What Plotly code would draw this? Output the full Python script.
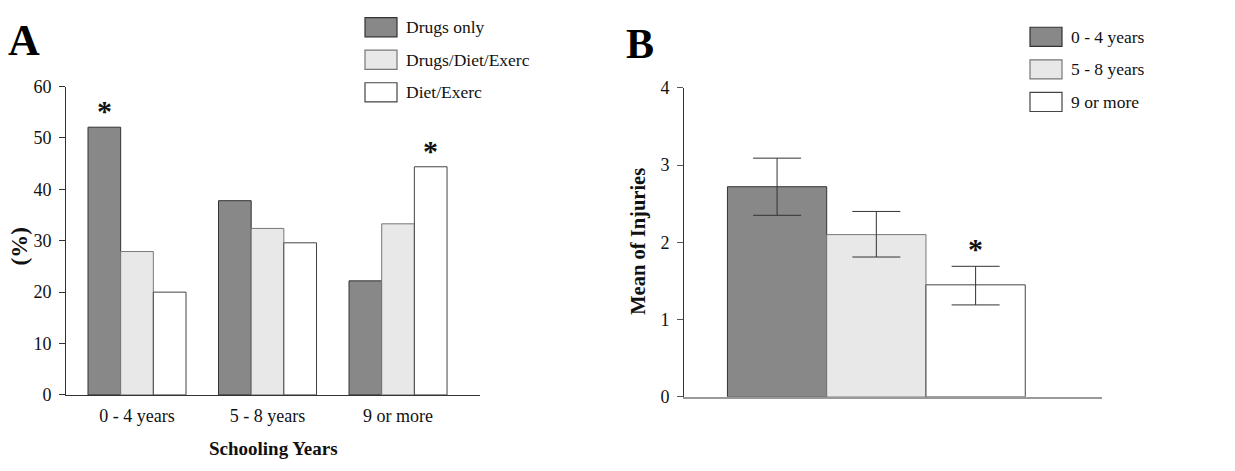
import plotly.graph_objects as go

# ---------------- data ----------------
categories_a = ["0 - 4 years", "5 - 8 years", "9 or more"]
drugs_only = [52.1, 37.8, 22.2]
drugs_diet_exerc = [27.9, 32.4, 33.3]
diet_exerc = [20.0, 29.6, 44.4]
series_a_names = ["Drugs only", "Drugs/Diet/Exerc", "Diet/Exerc"]
sig_a = [(0, 0), (2, 2)]  # (category index, series index) marked with *

groups_b = ["0 - 4 years", "5 - 8 years", "9 or more"]
mean_injuries = [2.72, 2.10, 1.45]
err_plus = [0.37, 0.30, 0.24]
err_minus = [0.37, 0.29, 0.26]
sig_b = [2]

yticks_a = [0, 10, 20, 30, 40, 50, 60]
yticks_b = [0, 1, 2, 3, 4]

# ---------------- style ----------------
W, H = 1235, 471
fills = ["#888888", "#e8e8e8", "#ffffff"]
outlines = ["#333333", "#777777", "#444444"]
FONT = "Liberation Serif, Times New Roman, serif"
BARGAP = 0.249

def px(x):
    return x / W

def py(y):
    return 1 - y / H

fig = go.Figure()

series_a = [drugs_only, drugs_diet_exerc, diet_exerc]
for name, vals, fc, lc in zip(series_a_names, series_a, fills, outlines):
    fig.add_trace(go.Bar(
        x=categories_a, y=vals, name=name, xaxis="x", yaxis="y",
        marker=dict(color=fc, line=dict(color=lc, width=1)),
        showlegend=False, hoverinfo="x+y+name"))

for name, v, ep, em, fc, lc in zip(groups_b, mean_injuries, err_plus, err_minus, fills, outlines):
    fig.add_trace(go.Bar(
        x=["Mean"], y=[v], name=name, xaxis="x2", yaxis="y2",
        marker=dict(color=fc, line=dict(color=lc, width=1)),
        error_y=dict(type="data", symmetric=False, array=[ep], arrayminus=[em],
                     color="#333333", thickness=1, width=24),
        showlegend=False))

ann = []
shapes = []

# significance stars
n_a = len(series_a)
bw_a = (1 - BARGAP) / n_a
for ci, si in sig_a:
    ann.append(dict(x=ci + (si - (n_a - 1) / 2) * bw_a, y=series_a[si][ci],
                    xref="x", yref="y", text="<b>*</b>", showarrow=False, yshift=-2,
                    font=dict(family=FONT, size=30, color="#111"), yanchor="bottom"))
n_b = len(groups_b)
bw_b = (1 - BARGAP) / n_b
for si in sig_b:
    ann.append(dict(x=(si - (n_b - 1) / 2) * bw_b, y=mean_injuries[si] + err_plus[si],
                    xref="x2", yref="y2", text="<b>*</b>", showarrow=False, yshift=-1,
                    font=dict(family=FONT, size=30, color="#111"), yanchor="bottom"))

# legends drawn as boxes
def legend(x0, ys, names, textx):
    for (y0, y1), nm, fc, lc in zip(ys, names, fills, outlines):
        shapes.append(dict(type="rect", xref="paper", yref="paper",
                           x0=px(x0), x1=px(x0 + 32), y0=py(y1), y1=py(y0),
                           fillcolor=fc, line=dict(color=lc, width=1.2)))
        ann.append(dict(x=px(textx), y=py((y0 + y1) / 2), xref="paper", yref="paper",
                        text=nm, showarrow=False, xanchor="left", yanchor="middle",
                        font=dict(family=FONT, size=17.5, color="#111")))

legend(365, [(8, 28), (42, 62), (76, 96)], series_a_names, 404)
legend(1030, [(18, 38), (52, 72), (86, 106)], groups_b, 1069)

# panel letters and axis titles
ann.append(dict(x=px(6), y=py(32), xref="paper", yref="paper", text="<b>A</b>",
                showarrow=False, xanchor="left", yanchor="middle",
                font=dict(family=FONT, size=44, color="#000")))
ann.append(dict(x=px(624), y=py(35), xref="paper", yref="paper", text="<b>B</b>",
                showarrow=False, xanchor="left", yanchor="middle",
                font=dict(family=FONT, size=42, color="#000")))
ann.append(dict(x=px(273), y=py(458), xref="paper", yref="paper", text="<b>Schooling Years</b>",
                showarrow=False, xanchor="center", yanchor="middle",
                font=dict(family=FONT, size=19, color="#111")))
ann.append(dict(x=px(20), y=py(247), xref="paper", yref="paper", text="<b>(%)</b>",
                showarrow=False, xanchor="center", yanchor="middle", textangle=-90,
                font=dict(family=FONT, size=23, color="#111")))
ann.append(dict(x=px(639), y=py(242), xref="paper", yref="paper", text="<b>Mean of Injuries</b>",
                showarrow=False, xanchor="center", yanchor="middle", textangle=-90,
                font=dict(family=FONT, size=20.5, color="#111")))

axis_font = dict(family=FONT, size=18, color="#111")

fig.update_layout(
    width=W, height=H, autosize=False,
    margin=dict(l=0, r=0, t=0, b=0),
    paper_bgcolor="white", plot_bgcolor="white",
    barmode="group", bargap=BARGAP, bargroupgap=0,
    font=dict(family=FONT, color="#111"),
    xaxis=dict(domain=[px(66), px(480)], anchor="y", type="category",
               range=[-0.544, 2.628], showline=True, linecolor="#333", linewidth=1,
               ticks="", showgrid=False, zeroline=False, tickfont=axis_font,
               ticklabelstandoff=4, fixedrange=True),
    yaxis=dict(domain=[py(402), py(80)], anchor="x", range=[0, 60],
               tickvals=yticks_a, showline=True, linecolor="#333", linewidth=1,
               ticks="outside", ticklen=6, tickcolor="#333", showgrid=False,
               zeroline=False, tickfont=axis_font, ticklabelstandoff=4),
    xaxis2=dict(domain=[px(684), px(1102)], anchor="y2", type="category",
                range=[-0.485, 0.569], showline=True, linecolor="#999", linewidth=1.5,
                ticks="", showticklabels=False, showgrid=False, zeroline=False),
    yaxis2=dict(domain=[py(404), py(81.3)], anchor="x2", range=[0, 4],
                tickvals=yticks_b, showline=True, linecolor="#333", linewidth=1,
                ticks="outside", ticklen=6, tickcolor="#555", showgrid=False,
                zeroline=False, tickfont=axis_font, ticklabelstandoff=4),
    annotations=ann, shapes=shapes,
)

fig.write_html(
    "out.html",
    config={"displayModeBar": False},
    post_script="document.body.style.margin='0';document.body.style.padding='0';"
                "document.documentElement.style.overflow='hidden';",
)
